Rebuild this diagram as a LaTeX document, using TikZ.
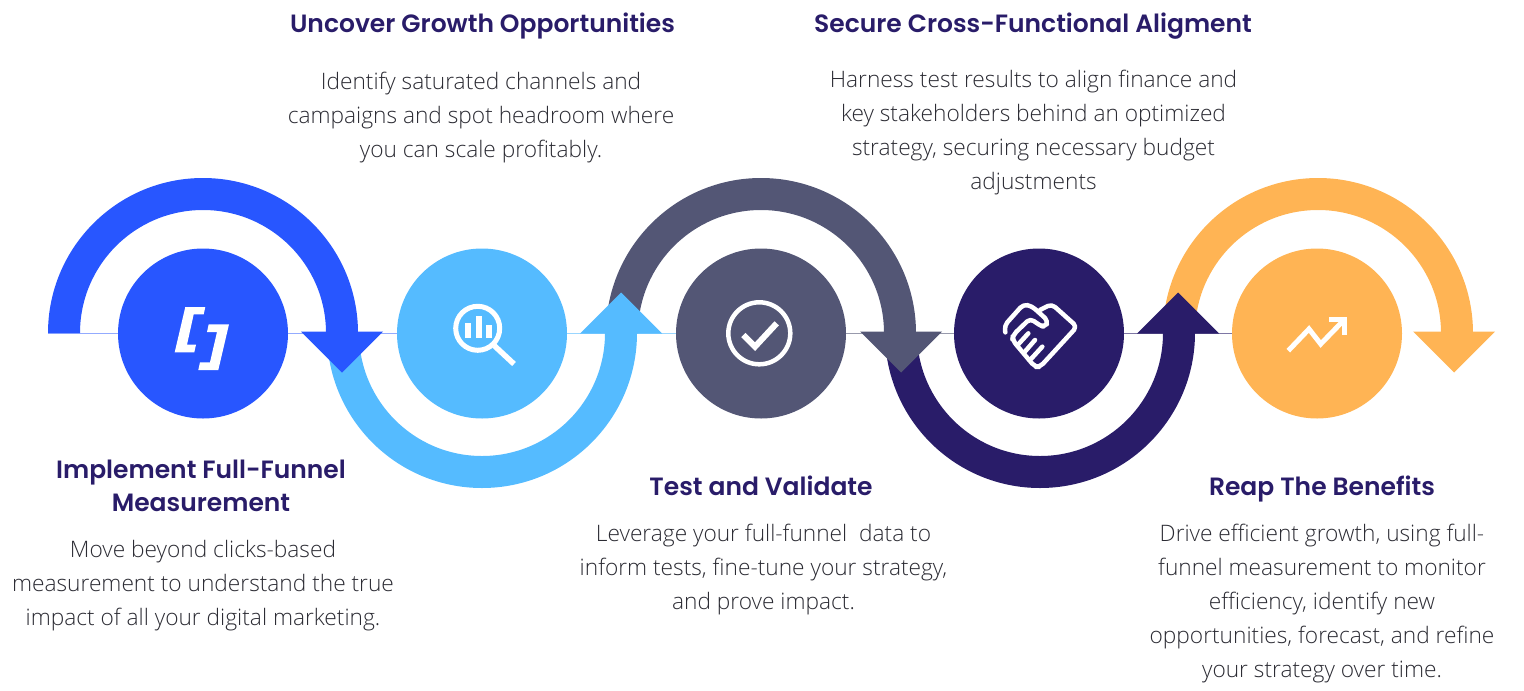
\documentclass[tikz,border=0pt]{standalone}
\usepackage{fontspec}
\setmainfont{Open Sans Light}
\newfontfamily\titlefont{Poppins SemiBold}
\definecolor{cblue}{HTML}{2856FF}
\definecolor{csky}{HTML}{55BBFF}
\definecolor{cslate}{HTML}{535675}
\definecolor{cnavy}{HTML}{291C69}
\definecolor{corange}{HTML}{FFB454}
\definecolor{ctext}{HTML}{2B2B33}
\tikzset{
  ttl/.style={font=\titlefont\fontsize{25}{33}\selectfont,text=cnavy,align=center,inner sep=0pt},
  body/.style={font=\fontsize{22.7}{34}\selectfont,text=ctext,align=center,inner sep=0pt},
  disc/.style={circle,minimum size=170pt,inner sep=0pt},
  icon/.style={draw=white,line width=5pt,fill=none},
  link/.style={line width=0.8pt}
}
\newcommand{\bandup}[2]{\fill[#2] (#1-155,-333) arc[start angle=180,end angle=0,radius=155] -- ++(-32,0) arc[start angle=0,end angle=180,radius=123] -- cycle;}
\newcommand{\banddown}[2]{\fill[#2] (#1-155,-333) arc[start angle=180,end angle=360,radius=155] -- ++(-32,0) arc[start angle=360,end angle=180,radius=123] -- cycle;}
\begin{document}
\begin{tikzpicture}[x=1pt,y=1pt]
\useasboundingbox (0,0) rectangle (1524,-691);
\node[disc,fill=cblue] (c1) at (203,-333.5) {};
\node[disc,fill=csky] (c2) at (482,-333.5) {};
\node[disc,fill=cslate] (c3) at (761,-333.5) {};
\node[disc,fill=cnavy] (c4) at (1039,-333.5) {};
\node[disc,fill=corange] (c5) at (1317,-333.5) {};
\coordinate (start) at (48,-333.5);
\draw[link,cblue!50] (start) -- (c1);
\draw[link,cblue!50] (c1) -- (c2);
\draw[link,csky!60] (c2) -- (c3);
\draw[link,cslate!60] (c3) -- (c4);
\draw[link,cnavy!60] (c4) -- (c5);
% bands and heads, last first
\bandup{1318}{corange}
\fill[corange] (1413,-331.5) -- (1495,-331.5) -- (1454,-372.5) -- cycle;
\banddown{1040}{cnavy}
\fill[cnavy] (1137,-333.5) -- (1219,-333.5) -- (1178,-292.5) -- cycle;
\bandup{761}{cslate}
\fill[cslate] (860,-331.5) -- (942,-331.5) -- (901,-372.5) -- cycle;
\banddown{482}{csky}
\fill[csky] (580,-333.5) -- (662,-333.5) -- (621,-292.5) -- cycle;
\bandup{203}{cblue}
\fill[cblue] (301,-331.5) -- (383,-331.5) -- (342,-372.5) -- cycle;
% icon 1
\fill[white] (185.3,-307) -- (205.3,-307) -- (203.7,-314.3) -- (193.7,-314.3) -- (187,-344.7) -- (196,-344.7) -- (194.3,-352.3) -- (174.7,-352.3) -- cycle;
\fill[white] (208.7,-324.3) -- (229,-324.3) -- (218.3,-370) -- (198.3,-370) -- (200,-362.3) -- (210,-362.3) -- (217,-332) -- (207,-332) -- cycle;
% icon 2
\draw[icon] (477.7,-328.3) circle[radius=22];
\draw[icon,line width=5.5pt] (494.3,-345.7) -- (514,-364);
\fill[white] (465,-322.7) rectangle (470.5,-337.7);
\fill[white] (475.7,-316) rectangle (481.7,-337.7);
\fill[white] (486,-325.3) rectangle (492.3,-337.7);
% icon 3
\draw[icon,line width=4.5pt] (759.3,-333.3) circle[radius=31];
\draw[icon,line width=6pt] (743.3,-335) -- (755,-346.7) -- (776.7,-323.3);
% icon 4: reference zoom coordinates, 3 units to the pixel
\begin{scope}[shift={(995,-295)},x=0.3333pt,y=-0.3333pt,icon,line width=4.5pt,line cap=round,line join=round]
\draw[rounded corners=4.5pt] (31,112) -- (28,92) -- (85,28) -- (110,33) -- (160,78) -- (150,97) -- (132,90) -- (106,70) -- (54,120) -- (52,135) -- (120,216) -- (135,216) -- (246,95) -- (170,27) -- (135,45);
\draw (68,150) -- (100,115);
\draw (88,172) -- (120,135);
\draw (108,192) -- (142,155);
\end{scope}
% icon 5
\draw[icon] (1288.3,-350.7) -- (1309,-329) -- (1320.7,-344) -- (1343.3,-320.7);
\draw[icon] (1329,-319) -- (1344.5,-319) -- (1344.5,-334.5);
% texts
\node[ttl] (t1) at (201,-486) {Implement Full-Funnel\\Measurement};
\node[body] (b1) at (203,-586) {Move beyond clicks-based\\measurement to understand the true\\impact of all your digital marketing.};
\node[ttl] (t2) at (482.5,-26) {Uncover Growth Opportunities};
\node[body] (b2) at (481,-118) {Identify saturated channels and\\campaigns and spot headroom where\\you can scale profitably.};
\node[ttl] (t3) at (761,-486) {Test and Validate};
\node[body] (b3) at (763.5,-570) {Leverage your full-funnel\ \ data to\\inform tests, fine-tune your strategy,\\and prove impact.};
\node[ttl] (t4) at (1033,-26) {Secure Cross-Functional Aligment};
\node[body] (b4) at (1033.5,-133) {Harness test results to align finance and\\key stakeholders behind an optimized\\strategy, securing necessary budget\\adjustments};
\node[ttl] (t5) at (1322,-489) {Reap The Benefits};
\node[body] (b5) at (1322,-604) {Drive efficient growth, using full-\\funnel measurement to monitor\\efficiency, identify new\\opportunities, forecast, and refine\\your strategy over time.};
\end{tikzpicture}
\end{document}
